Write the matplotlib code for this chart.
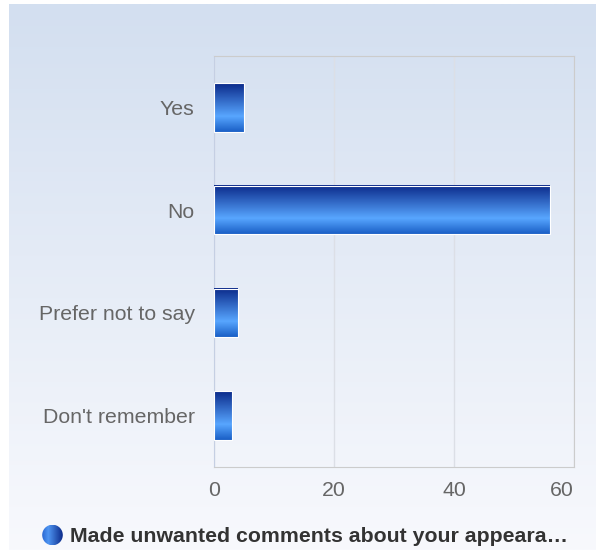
import numpy as np
import matplotlib.pyplot as plt
from matplotlib.colors import LinearSegmentedColormap
from matplotlib.patches import Rectangle, Circle

# data
categories = ['Yes', 'No', 'Prefer not to say', "Don't remember"]
counts = [5, 56, 4, 3]
series_name = 'Made unwanted comments about your appeara\u2026'
xticks = [0, 20, 40, 60]

plt.rcParams['font.family'] = ['Liberation Sans', 'DejaVu Sans']

fig = plt.figure(figsize=(5.96, 5.5), dpi=100)
fig.patch.set_facecolor('white')

# background gradient of the chart panel
bg = fig.add_axes([9 / 596, 0, 1 - 9 / 596, 1 - 4 / 550])
bg.set_axis_off()
bg_cmap = LinearSegmentedColormap.from_list('bg', ['#f8f9fd', '#d3dff0'])
bg.imshow(np.linspace(0, 1, 256).reshape(-1, 1), cmap=bg_cmap, aspect='auto',
          origin='lower', extent=[0, 1, 0, 1])
bg.set_xlim(0, 1)
bg.set_ylim(0, 1)

ax = fig.add_axes([214 / 596, 1 - 467 / 550, 360 / 596, 411 / 550])
ax.patch.set_alpha(0)

bar_cmap = LinearSegmentedColormap.from_list(
    'bar', [(0, '#0b2a8a'), (0.68, '#58a6ff'), (1, '#1a5fc6')])
grad = np.linspace(0, 1, 100).reshape(-1, 1)
h = 0.47
y = np.arange(len(categories))
for yi, v in zip(y, counts):
    ax.imshow(grad, cmap=bar_cmap, aspect='auto', origin='upper',
              extent=[0, v, yi + h / 2, yi - h / 2], zorder=3)
    ax.add_patch(Rectangle((0, yi - h / 2), v, h, fill=False,
                           edgecolor='white', lw=0.8, zorder=4))

ax.set_xlim(0, 60)
ax.set_ylim(len(categories) - 0.5, -0.5)
ax.set_yticks(y)
ax.set_yticklabels(categories)
ax.set_xticks(xticks)
ax.tick_params(axis='both', length=0, labelsize=15.3, labelcolor='#666666')
ax.tick_params(axis='y', pad=14)
ax.tick_params(axis='x', pad=10)
# last label is pushed inside the chart
ax.get_xticklabels()[-1].set_horizontalalignment('right')
ax.get_xticklabels()[-1].set_x(60)
ax.grid(axis='x', color='#dcdfe6', lw=1, zorder=0)
for s in ax.spines.values():
    s.set_color('#cccccc')
ax.spines['left'].set_color('#c5cfe3')

# legend
leg = fig.add_axes([0, 0, 1, 1])
leg.set_axis_off()
leg.set_xlim(0, 596)
leg.set_ylim(550, 0)
leg_cmap = LinearSegmentedColormap.from_list(
    'leg', [(0, '#2a68d2'), (0.3, '#4f95f2'), (1, '#0b2a8a')])
img = leg.imshow(np.linspace(0, 1, 100).reshape(1, -1), cmap=leg_cmap,
                 aspect='auto', extent=[42, 63, 545, 525])
circ = Circle((52.5, 535), 10.3, transform=leg.transData, facecolor='none',
              edgecolor='none')
leg.add_patch(circ)
img.set_clip_path(circ)
leg.set_xlim(0, 596)
leg.set_ylim(550, 0)
leg.text(70, 536, series_name, fontsize=15.3, fontweight='bold',
         color='#333333', va='center', ha='left')

fig.savefig('out.png', dpi=100)
